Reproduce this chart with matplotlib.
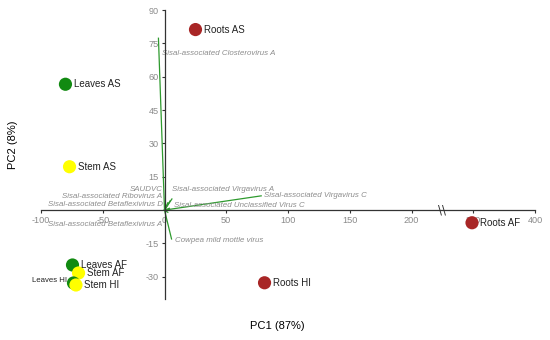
import numpy as np
import matplotlib.pyplot as plt

plt.rcParams['font.family'] = ['Liberation Sans', 'DejaVu Sans']

# sample scores on PC1 / PC2
samples = ["Leaves AS", "Stem AS", "Roots AS", "Leaves AF", "Stem AF",
           "Roots AF", "Leaves HI", "Stem HI", "Roots HI"]
pc1 = [-80.2, -76.9, 25.1, -74.5, -69.6, 349.0, -73.7, -71.7, 81.0]
pc2 = [56.6, 19.5, 81.2, -24.7, -28.3, -5.7, -32.8, -33.7, -32.7]
tissue = ["Leaves", "Stem", "Roots", "Leaves", "Stem", "Roots", "Leaves", "Stem", "Roots"]

# virus loadings
viruses = ["Sisal-associated Closterovirus A", "Sisal-associated Virgavirus C",
           "Sisal-associated Virgavirus A", "Sisal-associated Unclassified Virus C",
           "SAUDVC", "Sisal-associated Ribovirus A", "Sisal-associated Betaflexivirus D",
           "Sisal-associated Betaflexivirus A", "Cowpea mild mottle virus"]
load1 = [-4.9, 78.3, 6.0, 4.0, 4.6, 2.7, 1.5, 2.7, 5.7]
load2 = [77.3, 6.4, 5.0, 0.8, 4.2, 3.3, 2.0, -1.0, -13.0]

xticks = [-100, -50, 0, 50, 100, 150, 200, 350, 400]
yticks = [-30, -15, 15, 30, 45, 60, 75, 90]

colors = {"Leaves": "#118a11", "Stem": "#ffff00", "Roots": "#a82626"}

# label placement (data coords of text anchor, alignment)
vlab_pos = [(-2.4, 70.6, 'left'), (80.9, 6.4, 'left'), (5.7, 9.4, 'left'),
            (7.3, 2.2, 'left'), (-1.6, 9.4, 'right'), (-1.6, 6.0, 'right'),
            (-1.0, 2.7, 'right'), (-1.6, -6.3, 'right'), (8.1, -13.5, 'left')]


def fwd(x):
    x = np.asarray(x, dtype=float)
    return np.where(x <= 225, x, x - 100)


def inv(x):
    x = np.asarray(x, dtype=float)
    return np.where(x <= 225, x, x + 100)


fig = plt.figure(figsize=(5.5, 3.4), dpi=100)
ax = fig.add_axes([41 / 550, 41 / 340, 494 / 550, 289 / 340])
ax.set_xscale('function', functions=(fwd, inv))
ax.set_xlim(-100, 400)
ax.set_ylim(-40, 90)

for s in ['top', 'right']:
    ax.spines[s].set_visible(False)
ax.spines['left'].set_position(('data', 0))
ax.spines['bottom'].set_position(('data', 0))
for s in ['left', 'bottom']:
    ax.spines[s].set_color('#333333')
    ax.spines[s].set_linewidth(0.9)

ax.set_xticks(xticks)
ax.set_xticklabels([str(t) for t in xticks])
ax.set_yticks(yticks)
ax.set_yticklabels([str(t) for t in yticks])
ax.minorticks_off()
ax.tick_params(length=2.5, width=0.8, color='#333333', labelsize=6.6,
               labelcolor='#8a8a8a', pad=1.5)

# axis break mark
ax.text(225, 0, '\\\\', ha='center', va='center', fontsize=8.5, color='#333333',
        family='DejaVu Sans', zorder=3)

# loading vectors
for i, v in enumerate(viruses):
    ax.plot([0, load1[i]], [0, load2[i]], color='#2e9a2e', lw=0.9, zorder=2)
    tx, ty, ha = vlab_pos[i]
    ax.text(tx, ty, v, ha=ha, va='center', fontsize=5.7, style='italic',
            color='#8c8c8c', zorder=2)

# sample points
for i, s in enumerate(samples):
    ax.scatter(pc1[i], pc2[i], s=90, color=colors[tissue[i]], zorder=4,
               edgecolors='none')
    if s == "Leaves HI":
        ax.annotate(s, (pc1[i], pc2[i]), xytext=(-5, 2), textcoords='offset points',
                    ha='right', va='center', fontsize=5.6, color='#222222', zorder=5)
    else:
        ax.annotate(s, (pc1[i], pc2[i]), xytext=(6, 0), textcoords='offset points',
                    ha='left', va='center', fontsize=7, color='#222222', zorder=5)

fig.text(277 / 550, 1 - 326 / 340, "PC1 (87%)", ha='center', va='center', fontsize=8)
fig.text(13 / 550, 1 - 145 / 340, "PC2 (8%)", ha='center', va='center', fontsize=8,
         rotation=90)

fig.savefig('out.png', dpi=100)
